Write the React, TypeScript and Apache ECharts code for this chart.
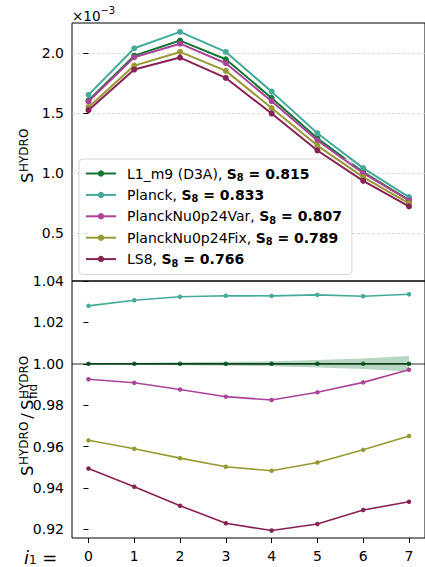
import React, { useEffect, useRef } from 'react';
import * as echarts from 'echarts';

// bin index i1
const binIndex = [0, 1, 2, 3, 4, 5, 6, 7];
const seriesNames = ['L1_m9 (D3A)', 'Planck', 'PlanckNu0p24Var', 'PlanckNu0p24Fix', 'LS8'];
const s8Values = ['0.815', '0.833', '0.807', '0.789', '0.766'];
const seriesColors = ['#117733', '#44AA99', '#AA4499', '#999933', '#882255'];

// S^HYDRO, in units of 1e-3
const hydroL1 = [1.606, 1.98, 2.106, 1.95, 1.627, 1.29, 1.009, 0.774];
const hydroPlanck = [1.653, 2.042, 2.178, 2.011, 1.68, 1.333, 1.042, 0.8];
const hydroVar = [1.597, 1.967, 2.08, 1.917, 1.6, 1.272, 1.0, 0.772];
const hydroFix = [1.55, 1.897, 2.011, 1.853, 1.543, 1.23, 0.967, 0.747];
const hydroLS8 = [1.525, 1.864, 1.964, 1.794, 1.497, 1.189, 0.936, 0.722];

// S^HYDRO / S^HYDRO_fid
const ratioL1 = [1, 1, 1, 1, 1, 1, 1, 1];
const ratioPlanck = [1.028, 1.0307, 1.0324, 1.0329, 1.0328, 1.0333, 1.0326, 1.0336];
const ratioVar = [0.9925, 0.9908, 0.9876, 0.9841, 0.9825, 0.9862, 0.991, 0.9971];
const ratioFix = [0.963, 0.9589, 0.9544, 0.9502, 0.9483, 0.9523, 0.9584, 0.9651];
const ratioLS8 = [0.9494, 0.9406, 0.9314, 0.9229, 0.9194, 0.9226, 0.9293, 0.9333];
const ratioErrL1 = [0.0004, 0.0005, 0.0007, 0.001, 0.0012, 0.0018, 0.0025, 0.0037];

const topTicks = [0.5, 1.0, 1.5, 2.0];
const bottomTicks = [0.92, 0.94, 0.96, 0.98, 1.0, 1.02, 1.04];

const FONT = 'DejaVu Sans';

// rotated axis-title pieces (local frame: x along reading direction, y down)
const S_SIZE = 16.5;
const SUP_SIZE = 12;
const S_W = 0.635 * S_SIZE;
const HYDRO_W = 3.615 * SUP_SIZE;
const SLASH_W = 0.337 * S_SIZE;

function txt(text: string, x: number, y: number, size: number, extra: any = {}) {
  return {
    type: 'text', x, y,
    style: { text, x: 0, y: 0, fontSize: size, fontFamily: FONT, fill: '#000', align: 'left', verticalAlign: 'middle', ...extra },
  };
}

export default function App() {
  const ref = useRef<HTMLDivElement>(null);
  useEffect(() => {
    document.body.style.margin = '0';
    const chart = echarts.init(ref.current!, null, { renderer: 'svg' });
    const hydro = [hydroL1, hydroPlanck, hydroVar, hydroFix, hydroLS8];
    const ratio = [ratioL1, ratioPlanck, ratioVar, ratioFix, ratioLS8];
    const pairs = (arr: number[]) => binIndex.map((x, i) => [x, arr[i]]);

    const series: any[] = [];
    seriesNames.forEach((name, k) => {
      series.push({
        name, type: 'line', xAxisIndex: 0, yAxisIndex: 0,
        data: pairs(hydro[k]),
        symbol: 'circle', symbolSize: 6,
        color: seriesColors[k],
        lineStyle: { width: 2, color: seriesColors[k] },
        itemStyle: { color: seriesColors[k] },
        z: 3 + k,
      });
    });
    // shaded band around the fiducial ratio
    const bandData = binIndex.map((x, i) => [x, ratioL1[i] - ratioErrL1[i], ratioL1[i] + ratioErrL1[i]]);
    series.push({
      name: 'band', type: 'custom', xAxisIndex: 1, yAxisIndex: 1,
      data: bandData,
      encode: { x: 0, y: [1, 2] },
      z: 1, silent: true,
      renderItem: (params: any, api: any) => {
        if (params.dataIndex !== 0) return null;
        const upper = bandData.map((d) => api.coord([d[0], d[2]]));
        const lower = bandData.map((d) => api.coord([d[0], d[1]])).reverse();
        return {
          type: 'polygon',
          shape: { points: upper.concat(lower) },
          style: { fill: 'rgba(17,119,51,0.3)', stroke: 'none' },
        };
      },
    });
    seriesNames.forEach((name, k) => {
      series.push({
        name, type: 'line', xAxisIndex: 1, yAxisIndex: 1,
        data: pairs(ratio[k]),
        symbol: 'circle', symbolSize: 4.5,
        color: seriesColors[k],
        lineStyle: { width: 1.6, color: seriesColors[k] },
        itemStyle: { color: seriesColors[k] },
        z: 3 + k,
      });
    });
    series.push({
      name: 'refLine', type: 'line', xAxisIndex: 1, yAxisIndex: 1,
      data: [], z: 20,
      markLine: {
        silent: true, symbol: 'none', label: { show: false },
        lineStyle: { color: 'rgba(0,0,0,0.55)', width: 1.5, type: 'solid' },
        data: [{ yAxis: 1 }],
      },
    });

    const gridLeft = 72;
    const gridWidth = 358;

    // top y-title: S^HYDRO
    const topTitle = {
      type: 'group', x: 27.5, y: 183, rotation: Math.PI / 2, z: 50,
      children: [
        txt('S', 0, 0, S_SIZE),
        txt('HYDRO', S_W + 0.5, -3.2, SUP_SIZE),
      ],
    };
    // bottom y-title: S^HYDRO / S^HYDRO_fid
    const x2 = S_W + 0.5 + HYDRO_W + 3;
    const x3 = x2 + SLASH_W + 3;
    const x4 = x3 + S_W + 0.5;
    const bottomTitle = {
      type: 'group', x: 27.5, y: 476, rotation: Math.PI / 2, z: 50,
      children: [
        txt('S', 0, 0, S_SIZE),
        txt('HYDRO', S_W + 0.5, -3.2, SUP_SIZE),
        txt('/', x2, 0, S_SIZE),
        txt('S', x3, 0, S_SIZE),
        txt('HYDRO', x4, -3.2, SUP_SIZE),
        txt('fid', x4, 5.2, SUP_SIZE),
      ],
    };

    chart.setOption({
      animation: false,
      textStyle: { fontFamily: FONT },
      grid: [
        { left: gridLeft, top: 23, width: gridWidth, height: 258, show: true, borderColor: '#000', borderWidth: 1, backgroundColor: 'transparent' },
        { left: gridLeft, top: 281, width: gridWidth, height: 257, show: true, borderColor: '#000', borderWidth: 1, backgroundColor: 'transparent' },
      ],
      xAxis: [
        {
          type: 'value', gridIndex: 0, min: -0.36, max: 7.35,
          axisLine: { show: false }, axisTick: { show: false }, axisLabel: { show: false }, splitLine: { show: false },
        },
        {
          type: 'value', gridIndex: 1, min: -0.36, max: 7.35,
          axisLine: { show: false },
          axisTick: { show: true, length: 5, lineStyle: { color: '#000', width: 1 }, customValues: binIndex },
          axisLabel: { show: true, fontSize: 14, color: '#000', margin: 11, fontFamily: FONT, customValues: binIndex, formatter: (v: number) => String(v) },
          splitLine: { show: false },
        },
      ],
      yAxis: [
        {
          type: 'value', gridIndex: 0, min: 0.1, max: 2.2525,
          axisLine: { show: false },
          axisTick: { show: true, length: 5, lineStyle: { color: '#000', width: 1 }, customValues: topTicks },
          axisLabel: { fontSize: 14, color: '#000', margin: 8, fontFamily: FONT, customValues: topTicks, formatter: (v: number) => v.toFixed(1) },
          splitLine: { show: true, lineStyle: { color: '#d0d0d0', width: 0.8, type: [3, 2] } },
        },
        {
          type: 'value', gridIndex: 1, min: 0.9158, max: 1.04,
          axisLine: { show: false },
          axisTick: { show: true, length: 5, lineStyle: { color: '#000', width: 1 }, customValues: bottomTicks },
          axisLabel: { fontSize: 14, color: '#000', margin: 8, fontFamily: FONT, customValues: bottomTicks, formatter: (v: number) => v.toFixed(2) },
          splitLine: { show: false },
        },
      ],
      legend: {
        data: seriesNames,
        orient: 'vertical',
        left: 79, top: 159,
        itemWidth: 30, itemHeight: 8, itemGap: 5.4,
        padding: [7.5, 10, 6.5, 6],
        selectedMode: false,
        backgroundColor: 'rgba(255,255,255,0.85)',
        borderColor: '#d4d4d4', borderWidth: 1, borderRadius: 4,
        formatter: (name: string) => {
          const k = seriesNames.indexOf(name);
          return `{n|${name}, }{b|S}{s|8}{b| = ${s8Values[k]}}`;
        },
        textStyle: {
          fontFamily: FONT,
          rich: {
            n: { fontSize: 14, lineHeight: 18, color: '#000', fontFamily: FONT, padding: [0, 0, 0, 6] },
            b: { fontSize: 14, lineHeight: 18, color: '#000', fontWeight: 'bold', fontFamily: FONT },
            s: { fontSize: 9.8, lineHeight: 11.5, verticalAlign: 'bottom', color: '#000', fontWeight: 'bold', fontFamily: FONT },
          },
        },
      },
      graphic: [
        {
          type: 'text', x: 72, y: 16, z: 50,
          style: {
            text: '{a|×10}{b|−3}', align: 'left', verticalAlign: 'middle',
            rich: {
              a: { fontSize: 13.5, lineHeight: 22, fontFamily: FONT, fill: '#000' },
              b: { fontSize: 10, lineHeight: 10, verticalAlign: 'top', fontFamily: FONT, fill: '#000' },
            },
          },
        },
        topTitle,
        bottomTitle,
        {
          type: 'text', x: 24, y: 557, z: 50,
          style: {
            text: '{i|i}{u|1}{e| =}', align: 'left', verticalAlign: 'middle',
            rich: {
              i: { fontSize: 18, lineHeight: 18, fontStyle: 'italic', fontFamily: FONT, fill: '#000' },
              u: { fontSize: 12, lineHeight: 12, verticalAlign: 'bottom', fontFamily: FONT, fill: '#000' },
              e: { fontSize: 18, lineHeight: 18, fontFamily: FONT, fill: '#000' },
            },
          },
        },
      ],
      series,
    });
    return () => chart.dispose();
  }, []);
  return <div ref={ref} style={{ width: 425, height: 567 }} />;
}
